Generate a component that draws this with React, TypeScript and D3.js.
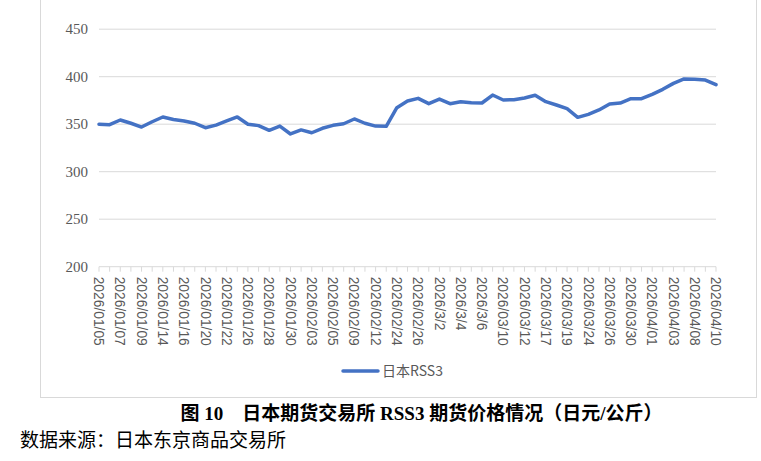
import React from "react";
import * as d3 from "d3";

const dates = [
  "2026/01/05","2026/01/06","2026/01/07","2026/01/08","2026/01/09","2026/01/13","2026/01/14","2026/01/15","2026/01/16","2026/01/19",
  "2026/01/20","2026/01/21","2026/01/22","2026/01/23","2026/01/26","2026/01/27","2026/01/28","2026/01/29","2026/01/30","2026/02/02",
  "2026/02/03","2026/02/04","2026/02/05","2026/02/06","2026/02/09","2026/02/10","2026/02/12","2026/02/13","2026/02/24","2026/02/25",
  "2026/02/26","2026/02/27","2026/3/2","2026/3/3","2026/3/4","2026/3/5","2026/3/6","2026/03/09","2026/03/10","2026/03/11",
  "2026/03/12","2026/03/13","2026/03/17","2026/03/18","2026/03/19","2026/03/23","2026/03/24","2026/03/25","2026/03/26","2026/03/27",
  "2026/03/30","2026/03/31","2026/04/01","2026/04/02","2026/04/03","2026/04/07","2026/04/08","2026/04/09","2026/04/10",
];

const rss3 = [
  350, 349.5, 354.4, 351, 347, 352.6, 357.6, 355, 353.4, 351,
  346.3, 349, 353.4, 357.6, 350, 348.5, 343.6, 348, 339.7, 344,
  341, 345.7, 348.8, 350.5, 355.5, 351, 348, 347.8, 367.4, 374.4,
  377.2, 371.6, 376.5, 371.6, 373.7, 372.6, 372.3, 380.7, 375.5, 375.8,
  377.6, 380.4, 373.7, 370.2, 366.3, 357.2, 360.4, 365, 371.3, 372.3,
  376.8, 376.8, 381.4, 386.7, 393, 397.6, 397.2, 396.5, 391.6,
];

const yTicks = [200, 250, 300, 350, 400, 450];
const seriesName = "日本RSS3";
const caption = "图 10　日本期货交易所 RSS3 期货价格情况（日元/公斤）";
const source = "数据来源：日本东京商品交易所";

const W = 761;
const H = 461;
const plotLeft = 99;
const plotRight = 716;
const plotTop = 29.2;
const plotBottom = 266.7;

export default function App() {
  const x = d3.scalePoint<string>().domain(dates).range([plotLeft, plotRight]);
  const y = d3.scaleLinear().domain([200, 450]).range([plotBottom, plotTop]);
  const line = d3
    .line<number>()
    .x((_, i) => x(dates[i]) as number)
    .y((d) => y(d));
  const gray = "#d9d9d9";
  const textGray = "#595959";

  return (
    <svg
      width={W}
      height={H}
      style={{ position: "absolute", left: 0, top: 0, background: "#fff" }}
    >
      <rect x={0} y={0} width={W} height={H} fill="#fff" />
      <rect x={40.5} y={-2} width={716} height={399.5} fill="none" stroke={gray} strokeWidth={1} />
      {yTicks.slice(1).map((t) => (
        <line key={t} x1={plotLeft} x2={plotRight} y1={y(t)} y2={y(t)} stroke={gray} strokeWidth={1} />
      ))}
      <line x1={plotLeft} x2={plotRight} y1={plotBottom} y2={plotBottom} stroke={gray} strokeWidth={1} />
      {dates.map((d) => (
        <line key={d} x1={x(d)} x2={x(d)} y1={plotBottom} y2={plotBottom + 5} stroke={gray} strokeWidth={1} />
      ))}
      {yTicks.map((t) => (
        <text
          key={t}
          x={88}
          y={y(t)}
          dy="0.35em"
          textAnchor="end"
          fontFamily="'Liberation Serif', 'Times New Roman', serif"
          fontSize={15}
          fill={textGray}
        >
          {t}
        </text>
      ))}
      {dates.map((d, i) =>
        i % 2 === 0 ? (
          <text
            key={d}
            transform={`translate(${x(d)},${plotBottom + 10}) rotate(90)`}
            dy="0.35em"
            textAnchor="start"
            fontFamily="'Liberation Sans', Arial, sans-serif"
            fontSize={13.8}
            fill={textGray}
          >
            {d}
          </text>
        ) : null
      )}
      <path d={line(rss3) || ""} fill="none" stroke="#4472C4" strokeWidth={3.5} strokeLinejoin="round" strokeLinecap="round" />
      <line x1={343} x2={378} y1={371} y2={371} stroke="#4472C4" strokeWidth={3.5} strokeLinecap="round" />
      <text
        x={382}
        y={371}
        dy="0.35em"
        fontFamily="'Noto Sans CJK SC', 'Noto Sans', sans-serif"
        fontSize={14}
        fill={textGray}
      >
        {seriesName}
      </text>
      <text
        x={421.5}
        y={413}
        dy="0.35em"
        textAnchor="middle"
        fontFamily="'Liberation Serif', 'Noto Sans CJK SC', serif"
        fontWeight="bold"
        fontSize={19}
        fill="#000"
      >
        {caption}
      </text>
      <text
        x={20}
        y={440}
        dy="0.35em"
        fontFamily="'Noto Sans CJK SC', sans-serif"
        fontSize={19}
        fill="#000"
      >
        {source}
      </text>
    </svg>
  );
}
